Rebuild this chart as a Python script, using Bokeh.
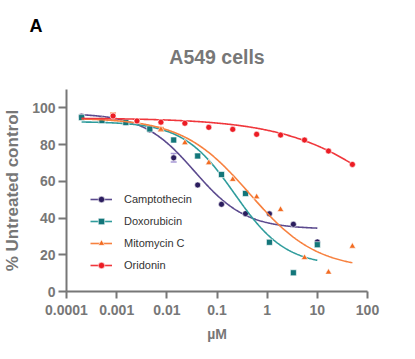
import numpy as np
from bokeh.plotting import figure
from bokeh.models import (ColumnDataSource, Legend, LegendItem, Whisker,
                          FixedTicker, TeeHead, Range1d, Title)
from bokeh.embed import file_html
from bokeh.resources import INLINE

# ---- data ----
series_names = ["Camptothecin", "Doxorubicin", "Mitomycin C", "Oridonin"]

camp_x = [0.0002, 0.000508, 0.00152, 0.00457, 0.0137, 0.0412, 0.123, 0.370, 1.11, 3.33, 10]
camp_y = [95.4, 93.4, 92.0, 88.0, 72.8, 58.0, 47.5, 42.4, 42.3, 36.6, 27.0]
camp_err = [0, 0, 0, 0, 2.3, 0, 0, 0, 0, 0, 0]

dox_x = [0.0002, 0.000508, 0.00152, 0.00457, 0.0137, 0.0412, 0.123, 0.370, 1.11, 3.33, 10]
dox_y = [94.7, 93.1, 92.0, 88.5, 82.5, 73.8, 63.7, 53.4, 26.8, 10.2, 25.5]
dox_err = [0, 0, 0, 0, 0, 1.0, 0, 0, 0, 0, 0]

mito_x = [0.000847, 0.00254, 0.00762, 0.0229, 0.0686, 0.206, 0.617, 1.85, 5.56, 16.7, 50]
mito_y = [95.2, 92.5, 88.3, 81.0, 70.1, 61.0, 51.5, 44.6, 18.4, 10.5, 24.6]
mito_err = [2.0, 1.2, 1.0, 0, 0, 0, 0, 0, 0, 0, 0]

orid_x = [0.000847, 0.00254, 0.00762, 0.0229, 0.0686, 0.206, 0.617, 1.85, 5.56, 16.7, 50]
orid_y = [95.6, 92.9, 92.2, 91.6, 89.4, 88.3, 85.6, 85.2, 82.5, 76.5, 69.2]
orid_err = [0, 0, 0, 0, 0, 0, 0, 0, 0, 0, 0]

# four-parameter logistic fit parameters (top, bottom, logIC50, hill) estimated from the curves
camp_fit = [97.0, 34.0, -1.45, 0.85]
dox_fit = [92.5, 14.0, -0.65, 0.85]
mito_fit = [94.5, 12.0, -0.35, 0.65]
orid_fit = [94.5, 0.0, 2.8, 0.4]

# curve x-extent (µM)
camp_span = [0.0002, 10]
dox_span = [0.0002, 10]
mito_span = [0.0002, 50]
orid_span = [0.0002, 50]

x_ticks = [0.0001, 0.001, 0.01, 0.1, 1, 10, 100]
x_tick_labels = ["0.0001", "0.001", "0.01", "0.1", "1", "10", "100"]
y_ticks = [0, 20, 40, 60, 80, 100]

marker_colors = ["#2b1d5e", "#13767a", "#f26b21", "#ec1c24"]
line_colors = ["#5b4a8e", "#2f9c9c", "#f7813f", "#f0373c"]
err_colors = ["#a99ad6", "#7cc3c3", "#f7a070", "#f57a7a"]
markers = ["circle", "square", "triangle", "circle"]

FONT = "Liberation Sans"
GRAY = "#777777"

p = figure(width=413, height=357, x_axis_type="log",
           x_range=Range1d(0.0001, 100), y_range=Range1d(0, 110),
           output_backend="svg", toolbar_location=None,
           min_border_left=64, min_border_right=46,
           min_border_top=89, min_border_bottom=66)
p.background_fill_color = None
p.border_fill_color = "white"
p.outline_line_color = None
p.grid.visible = False

for ax in (p.xaxis[0], p.yaxis[0]):
    ax.axis_line_color = GRAY
    ax.axis_line_width = 2
    ax.major_tick_line_color = GRAY
    ax.major_tick_line_width = 2
    ax.major_tick_out = 7
    ax.major_tick_in = 0
    ax.minor_tick_line_color = None
    ax.major_label_text_font = FONT
    ax.major_label_text_font_style = "bold"
    ax.major_label_text_font_size = "14px"
    ax.major_label_text_color = GRAY
    ax.axis_label_text_font = FONT
    ax.axis_label_text_font_style = "bold"
    ax.axis_label_text_color = GRAY

p.xaxis.ticker = FixedTicker(ticks=x_ticks)
p.xaxis.major_label_overrides = {t: l for t, l in zip(x_ticks, x_tick_labels)}
p.xaxis.major_label_standoff = 6
p.xaxis.axis_label = "µM"
p.xaxis.axis_label_text_font_size = "14px"
p.xaxis.axis_label_standoff = 8

p.yaxis.ticker = FixedTicker(ticks=y_ticks)
p.yaxis.major_tick_out = 8
p.yaxis.major_label_standoff = 3
p.yaxis.axis_label = "% Untreated control"
p.yaxis.axis_label_text_font_size = "17px"
p.yaxis.axis_label_standoff = 7


def four_pl(xs, fit):
    top, bottom, log_ic50, hill = fit
    return bottom + (top - bottom) / (1 + 10 ** ((np.log10(xs) - log_ic50) * hill))


all_x = [camp_x, dox_x, mito_x, orid_x]
all_y = [camp_y, dox_y, mito_y, orid_y]
all_err = [camp_err, dox_err, mito_err, orid_err]
all_fit = [camp_fit, dox_fit, mito_fit, orid_fit]
all_span = [camp_span, dox_span, mito_span, orid_span]

items = []
for i, name in enumerate(series_names):
    xs = np.logspace(np.log10(all_span[i][0]), np.log10(all_span[i][1]), 300)
    cl = p.line(xs, four_pl(xs, all_fit[i]), line_color=line_colors[i], line_width=1.6)
    ex = [x for x, e in zip(all_x[i], all_err[i]) if e > 0]
    if ex:
        ey = [y for y, e in zip(all_y[i], all_err[i]) if e > 0]
        ee = [e for e in all_err[i] if e > 0]
        wsrc = ColumnDataSource(dict(x=ex, lo=[a - b for a, b in zip(ey, ee)],
                                     hi=[a + b for a, b in zip(ey, ee)]))
        w = Whisker(source=wsrc, base="x", lower="lo", upper="hi", dimension="height",
                    line_color=err_colors[i], line_width=1.5,
                    upper_head=TeeHead(size=6, line_color=err_colors[i], line_width=1.5),
                    lower_head=TeeHead(size=6, line_color=err_colors[i], line_width=1.5))
        p.add_layout(w)
    sz = 6 if markers[i] != "triangle" else 6.5
    sc = p.scatter(all_x[i], all_y[i], marker=markers[i], size=sz,
                   fill_color=marker_colors[i], line_color="white", line_width=0.6)
    items.append(LegendItem(label=name, renderers=[cl, sc]))

legend = Legend(items=items, location=(24, 18), padding=0, margin=0,
                border_line_color=None, background_fill_alpha=0,
                glyph_width=22, glyph_height=16, label_height=16, spacing=6,
                label_standoff=12, label_text_font=FONT, label_text_font_size="11px",
                label_text_color="#333333")
p.add_layout(legend, "center")

title = Title(text="A549 cells", align="center", text_font=FONT, text_font_style="bold",
              text_font_size="19.5px", text_color=GRAY, standoff=44, offset=1)
p.add_layout(title, "above")
panel = Title(text="A", align="left", text_font=FONT, text_font_style="bold",
              text_font_size="18px", text_color="black", standoff=-28, offset=-37)
p.add_layout(panel, "above")

open("out.html", "w").write(file_html(p, INLINE))
